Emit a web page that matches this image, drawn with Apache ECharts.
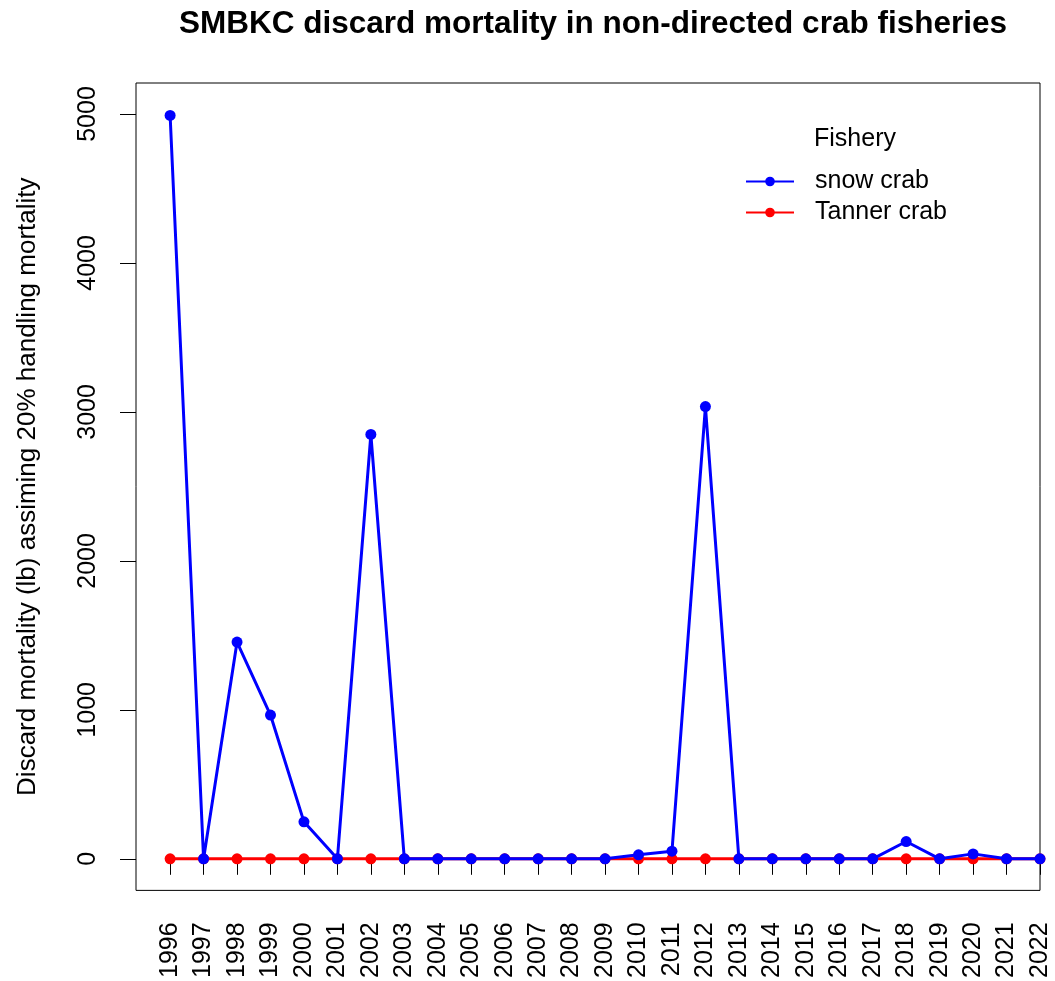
<!DOCTYPE html>
<html>
<head>
<meta charset="utf-8">
<script src="https://cdn.jsdelivr.net/npm/echarts@6/dist/echarts.min.js"></script>
<style>html,body{margin:0;padding:0;background:#fff;}#c{width:1055px;height:981px;}</style>
</head>
<body>
<div id="c"></div>
<script>
const years = [1996,1997,1998,1999,2000,2001,2002,2003,2004,2005,2006,2007,2008,2009,2010,2011,2012,2013,2014,2015,2016,2017,2018,2019,2020,2021,2022];
const snowCrab = [4990,0,1455,965,248,0,2849,0,0,0,0,0,0,0,27,51,3036,0,0,0,0,0,116,0,33,0,0];
const tannerCrab = [0,0,0,0,0,0,0,0,0,0,0,0,0,0,0,0,0,0,0,0,0,0,0,0,0,0,0];
const yTicks = [0,1000,2000,3000,4000,5000];

const FONT = '"Liberation Sans", Arial, sans-serif';
const chart = echarts.init(document.getElementById('c'), null, {renderer:'canvas'});
chart.setOption({
  animation: false,
  backgroundColor: '#fff',
  title: [{
    text: 'SMBKC discard mortality in non-directed crab fisheries',
    left: 588, top: 3, textAlign: 'center',
    textStyle: {fontFamily: FONT, fontWeight: 'bold', fontSize: 31.5, color: '#000'}
  },{
    text: 'Fishery', left: 850, top: 122, textAlign: 'center',
    textStyle: {fontFamily: FONT, fontWeight: 'normal', fontSize: 25, color: '#000'}
  }],
  legend: {
    data: ['snow crab','Tanner crab'],
    orient: 'vertical', left: 745, top: 169, padding: 0,
    itemWidth: 48, itemHeight: 12, itemGap: 6,
    textStyle: {fontFamily: FONT, fontSize: 25, lineHeight: 25, color: '#000', padding: [0,0,0,16]}
  },
  grid: {left: 136, top: 83, right: 15, bottom: 89, show: true, borderColor: '#000', borderWidth: 1, containLabel: false},
  xAxis: {
    type: 'value', min: 1994.98, max: 2022,
    axisLine: {show: false},
    splitLine: {show: false},
    axisTick: {show: true, inside: false, length: 16, lineStyle: {color: '#000'}, customValues: years},
    axisLabel: {rotate: 90, margin: 32, fontFamily: FONT, fontSize: 25, color: '#000', customValues: years, formatter: v => String(v)}
  },
  yAxis: {
    type: 'value', min: -212, max: 5208,
    name: 'Discard mortality (lb) assiming 20% handling mortality',
    nameLocation: 'middle', nameRotate: 90, nameGap: 95,
    nameTextStyle: {fontFamily: FONT, fontSize: 26, color: '#000'},
    axisLine: {show: false},
    splitLine: {show: false},
    axisTick: {show: true, inside: false, length: 16, lineStyle: {color: '#000'}, customValues: yTicks},
    axisLabel: {rotate: 90, margin: 35, fontFamily: FONT, fontSize: 25, color: '#000', customValues: yTicks, formatter: v => String(v)}
  },
  series: [{
    name: 'Tanner crab', type: 'line', color: '#FF0000',
    data: years.map((y,i) => [y, tannerCrab[i]]),
    symbol: 'circle', symbolSize: 11, showAllSymbol: true,
    lineStyle: {width: 3, color: '#FF0000'}, itemStyle: {color: '#FF0000'}, z: 2
  },{
    name: 'snow crab', type: 'line', color: '#0000FF',
    data: years.map((y,i) => [y, snowCrab[i]]),
    symbol: 'circle', symbolSize: 11, showAllSymbol: true,
    lineStyle: {width: 3, color: '#0000FF'}, itemStyle: {color: '#0000FF'}, z: 3
  }]
});
</script>
</body>
</html>
